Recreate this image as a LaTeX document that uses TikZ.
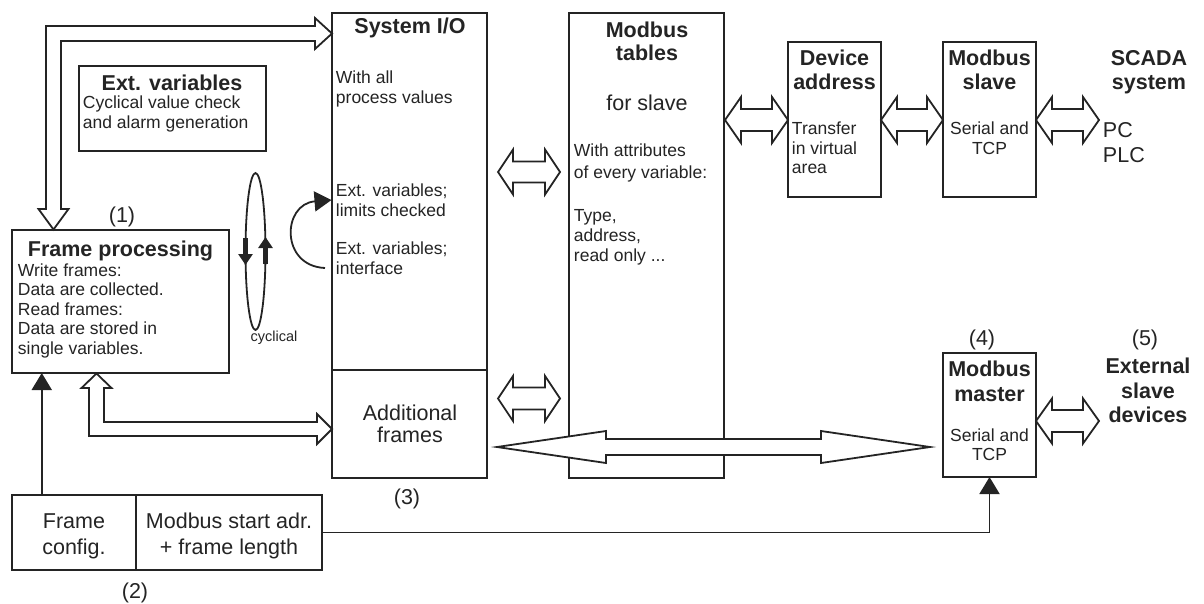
\documentclass[tikz,border=0pt]{standalone}
\usepackage{fontspec}
\setmainfont{Liberation Sans}
\usetikzlibrary{arrows.meta,calc}
\definecolor{ink}{gray}{0.14}
\newcommand\bx[5]{\node[box, minimum width={(#4-#2)*1pt}, minimum height={(#5-#3)*1pt}] (#1) at ({(#2+#4)/2},{(#3+#5)/2}) {};}
% hollow double arrow: [opts]{x1}{x2}{y}{head length}{head half width}{shaft half width}
\newcommand\dblarr[7][]{\draw[blk,#1] (#2,#4) -- ({#2+#5},{#4-#6}) -- ({#2+#5},{#4-#7}) -- ({#3-#5},{#4-#7}) -- ({#3-#5},{#4-#6}) -- (#3,#4) -- ({#3-#5},{#4+#6}) -- ({#3-#5},{#4+#7}) -- ({#2+#5},{#4+#7}) -- ({#2+#5},{#4+#6}) -- cycle;}
\begin{document}
\begin{tikzpicture}[x=1pt,y=-1pt,line width=1.9pt,
  box/.style={draw=ink, line width=1.9pt, rectangle, inner sep=0pt, outer sep=0pt, fill=white},
  blk/.style={draw=ink, line width=1.8pt, line join=miter},
  tn/.style={font=\fontsize{17.5}{20}\selectfont, text=ink, inner sep=0pt},
  tb/.style={font=\fontsize{21.5}{24}\selectfont\bfseries, text=ink, inner sep=0pt},
  tl/.style={font=\fontsize{21.5}{24}\selectfont, text=ink, inner sep=0pt},
  ts/.style={font=\fontsize{14.5}{16}\selectfont, text=ink, inner sep=0pt},
  conn/.style={draw=ink, line width=1.9pt, -{Triangle[length=17pt,width=20pt]}}]
\useasboundingbox (0,0) rectangle (1204,603);

% ---------- boxes ----------
\bx{extvar}{79}{66}{266}{151}
\bx{frameproc}{12}{230}{229}{373}
\bx{sysio}{332}{13}{487}{370}
\bx{addfr}{332}{370}{487}{478}
\bx{tables}{569}{13}{724}{478}
\bx{devaddr}{788}{42}{881}{197}
\bx{mslave}{943}{42}{1036}{197}
\bx{mmaster}{943}{353}{1036}{477}
\bx{fconfig}{12}{495}{136}{570}
\bx{mstart}{136}{495}{322}{570}

% ---------- block arrows ----------
% System I/O <-> Frame processing
\draw[blk] (332,33.5) -- (315,18) -- (315,26) -- (46,26) -- (46,209) -- (38.5,209) -- (53.5,229.5) -- (68.5,209) -- (61,209) -- (61,41) -- (315,41) -- (315,49) -- cycle;
% Frame processing <-> Additional frames
\draw[blk] (96.5,373.5) -- (111.5,388) -- (104,388) -- (104,422) -- (317,422) -- (317,414) -- (332,429) -- (317,444) -- (317,436) -- (89,436) -- (89,388) -- (81.5,388) -- cycle;
\dblarr{498}{560}{172}{15}{22.5}{10.5}
\dblarr{498}{560}{398.5}{15}{22.5}{11}
\dblarr{725}{788}{120}{16}{23}{11}
\dblarr{881}{943}{120}{16}{23}{11}
\dblarr{1036}{1099}{120}{16}{23}{11}
\dblarr{1036}{1099}{421}{16}{22.5}{11}
\dblarr[fill=white]{497}{930}{447}{109}{16}{8}

% ---------- thin arrows ----------
\coordinate (fa) at ($(fconfig.north west)!0.24!(fconfig.north east)$);
\draw[conn] (fa) -- (fa |- frameproc.south);
\draw[conn] (mstart.east) -| (mmaster.south);

% cyclical ellipse
\draw[draw=ink, line width=1.8pt] (255.5,251.5) ellipse [x radius=10, y radius=78.5];
\coordinate (cyc) at (255.5,251.5);
\draw[draw=ink, line width=5pt, -{Triangle[length=11pt,width=14pt]}] (245.5,238) -- (245.5,265);
\draw[draw=ink, line width=5pt, -{Triangle[length=11pt,width=14pt]}] (265.5,264) -- (265.5,237);
\node[ts, anchor=base] (cyctxt) at (274,341) {cyclical};

% curved arrow into System I/O
\coordinate (cs) at (325,268);
\coordinate (ce) at (331.5,200);
\draw[draw=ink, line width=1.8pt, -{Triangle[length=17pt,width=20pt]}] (cs) .. controls (280,266) and (282,204) .. (ce);

% ---------- texts ----------
\node[tb, anchor=base] (evt) at (172,90) {Ext. variables};
\node[tn, anchor=base west] (ev1) at (82,108) {Cyclical value check};
\node[tn, anchor=base west] (ev2) at (82,128) {and alarm generation};

\node[tl, anchor=base] (n1) at (122,222.5) {(1)};
\node[tb, anchor=base] (fpt) at (120.5,256) {Frame processing};
\node[tn, anchor=base west] (fp1) at (17,276) {Write frames:};
\node[tn, anchor=base west] (fp2) at (17,295.5) {Data are collected.};
\node[tn, anchor=base west] (fp3) at (17,315) {Read frames:};
\node[tn, anchor=base west] (fp4) at (17,334.5) {Data are stored in};
\node[tn, anchor=base west] (fp5) at (17,354) {single variables.};

\node[tb, anchor=base] (sit) at (410,33) {System I/O};
\node[tn, anchor=base west] (si1) at (335,83) {With all};
\node[tn, anchor=base west] (si2) at (335,103) {process values};
\node[tn, anchor=base west] (si3) at (335,196.5) {Ext. variables;};
\node[tn, anchor=base west] (si4) at (335,216.5) {limits checked};
\node[tn, anchor=base west] (si5) at (335,254.5) {Ext. variables;};
\node[tn, anchor=base west] (si6) at (335,274.5) {interface};
\node[tl, anchor=base] (af1) at (410,420.5) {Additional};
\node[tl, anchor=base] (af2) at (410,442.5) {frames};
\node[tl, anchor=base] (n3) at (407,504.5) {(3)};

\node[tb, anchor=base] (mt1) at (647,37.5) {Modbus};
\node[tb, anchor=base] (mt2) at (647,60.5) {tables};
\node[tl, anchor=base] (mt3) at (647,110.5) {for slave};
\node[tn, anchor=base west] (mt4) at (573,156) {With attributes};
\node[tn, anchor=base west] (mt5) at (573,178) {of every variable:};
\node[tn, anchor=base west] (mt6) at (573,221) {Type,};
\node[tn, anchor=base west] (mt7) at (573,241) {address,};
\node[tn, anchor=base west] (mt8) at (573,261) {read only ...};

\node[tb, anchor=base] (da1) at (834.5,65.5) {Device};
\node[tb, anchor=base] (da2) at (834.5,89.5) {address};
\node[tn, anchor=base west] (da3) at (791,134) {Transfer};
\node[tn, anchor=base west] (da4) at (791,154) {in virtual};
\node[tn, anchor=base west] (da5) at (791,173) {area};

\node[tb, anchor=base] (ms1) at (989.5,65.5) {Modbus};
\node[tb, anchor=base] (ms2) at (989.5,89.5) {slave};
\node[tn, anchor=base] (ms3) at (989.5,134) {Serial and};
\node[tn, anchor=base] (ms4) at (989.5,154) {TCP};

\node[tb, anchor=base] (sc1) at (1149,65.5) {SCADA};
\node[tb, anchor=base] (sc2) at (1149,89.5) {system};
\node[tl, anchor=base west] (sc3) at (1102,137.5) {PC};
\node[tl, anchor=base west] (sc4) at (1102,162.5) {PLC};

\node[tl, anchor=base] (n4) at (982,345.5) {(4)};
\node[tb, anchor=base] (mm1) at (989.5,376.5) {Modbus};
\node[tb, anchor=base] (mm2) at (989.5,401.5) {master};
\node[tn, anchor=base] (mm3) at (989.5,441) {Serial and};
\node[tn, anchor=base] (mm4) at (989.5,460) {TCP};

\node[tl, anchor=base] (n5) at (1145,345.5) {(5)};
\node[tb, anchor=base] (ex1) at (1148,373.5) {External};
\node[tb, anchor=base] (ex2) at (1148,398.5) {slave};
\node[tb, anchor=base] (ex3) at (1148,422.5) {devices};

\node[tl, anchor=base] (fc1) at (74,528.5) {Frame};
\node[tl, anchor=base] (fc2) at (74,554.5) {config.};
\node[tl, anchor=base] (ms5) at (229,528.5) {Modbus start adr.};
\node[tl, anchor=base] (ms6) at (229,554.5) {+ frame length};
\node[tl, anchor=base] (n2) at (135,598.5) {(2)};
\end{tikzpicture}
\end{document}
